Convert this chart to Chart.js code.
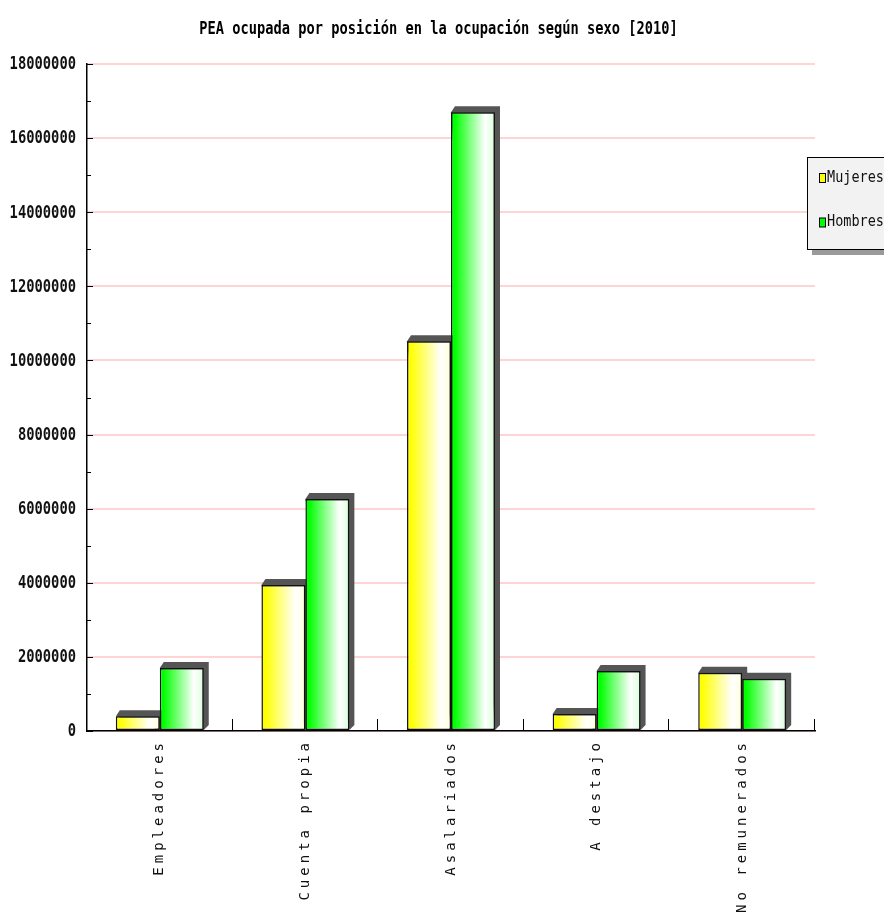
<!DOCTYPE html>
<html>
<head>
<meta charset="utf-8">
<title>PEA ocupada por posición en la ocupación según sexo</title>
<script src="https://cdn.jsdelivr.net/npm/chart.js@4/dist/chart.umd.min.js"></script>
<style>
  html, body { margin: 0; padding: 0; background: #fff; }
  #wrap { width: 884px; height: 917px; position: relative; }
</style>
</head>
<body>
<div id="wrap"><canvas id="peaChart"></canvas></div>
<script>
// categories and series
const categorias = ['Empleadores', 'Cuenta propia', 'Asalariados', 'A destajo', 'No remunerados'];
const mujeres = [400000, 3940000, 10520000, 460000, 1570000];
const hombres = [1700000, 6260000, 16700000, 1620000, 1410000];
const seriesNames = ['Mujeres', 'Hombres'];
const seriesColors = ['#ffff00', '#00ff00'];
const seriesFade = ['#ffffd8', '#d8ffd8'];
const yTicks = [0, 2000000, 4000000, 6000000, 8000000, 10000000, 12000000, 14000000, 16000000, 18000000];
const titulo = 'PEA ocupada por posición en la ocupación según sexo [2010]';

// narrow bold face: mono glyphs squeezed horizontally
function narrowText(ctx, text, x, y, align, size, squeeze, weight) {
  ctx.save();
  ctx.font = (weight || 'bold') + ' ' + size + 'px "DejaVu Sans Mono"';
  ctx.textAlign = align;
  ctx.textBaseline = 'middle';
  ctx.translate(x, y);
  ctx.scale(squeeze, 1);
  ctx.fillText(text, 0, 0);
  ctx.restore();
}

// gradient fill + drop shadow for every bar
const barStyle = {
  id: 'barStyle',
  beforeDatasetsDraw(chart) {
    const ctx = chart.ctx;
    // shadows first, so the bars sit on top
    ctx.save();
    ctx.fillStyle = '#555';
    chart.data.datasets.forEach((ds, di) => {
      chart.getDatasetMeta(di).data.forEach((el) => {
        const l = el.x - el.width / 2, r = el.x + el.width / 2;
        const t = el.y, b = el.base;
        ctx.beginPath();
        ctx.moveTo(l, t);
        ctx.lineTo(l + 4, t - 6);
        ctx.lineTo(r + 5, t - 6);
        ctx.lineTo(r + 5, b - 5);
        ctx.lineTo(r, b);
        ctx.closePath();
        ctx.fill();
      });
    });
    ctx.restore();
    chart.data.datasets.forEach((ds, di) => {
      chart.getDatasetMeta(di).data.forEach((el) => {
        const l = el.x - el.width / 2, r = el.x + el.width / 2;
        const g = ctx.createLinearGradient(l, 0, r, 0);
        g.addColorStop(0, seriesColors[di]);
        g.addColorStop(0.08, seriesColors[di]);
        g.addColorStop(0.78, '#ffffff');
        g.addColorStop(1, seriesFade[di]);
        el.options = Object.assign({}, el.options, { backgroundColor: g });
      });
    });
  }
};

// title, tick labels, inward ticks, rotated category labels and the legend box
const axisExtras = {
  id: 'axisExtras',
  afterDraw(chart) {
    const ctx = chart.ctx;
    const x = chart.scales.x, y = chart.scales.y;
    const area = chart.chartArea;
    ctx.save();
    ctx.fillStyle = '#000';
    narrowText(ctx, titulo, 438.5, 29, 'center', 18, 0.761);

    ctx.fillStyle = '#111';
    yTicks.forEach(v => {
      narrowText(ctx, String(v), 76, y.getPixelForValue(v) + 0.5, 'right', 18.5, 0.745);
    });

    ctx.strokeStyle = '#000';
    ctx.lineWidth = 1;
    // y ticks: long at labelled values, short halfway between
    for (let v = 0; v <= 18000000; v += 1000000) {
      const py = Math.round(y.getPixelForValue(v)) + 0.5;
      const len = v % 2000000 === 0 ? 6 : 4;
      ctx.beginPath();
      ctx.moveTo(area.left, py);
      ctx.lineTo(area.left + len, py);
      ctx.stroke();
    }
    // x ticks at group boundaries
    const step = (area.right - area.left) / categorias.length;
    for (let i = 1; i <= categorias.length; i++) {
      const px = Math.round(area.left + step * i) - 0.5;
      ctx.beginPath();
      ctx.moveTo(px, area.bottom);
      ctx.lineTo(px, area.bottom - 12);
      ctx.stroke();
    }
    // category labels, reading upward
    ctx.fillStyle = '#111';
    ctx.font = '14px "DejaVu Sans Mono"';
    ctx.letterSpacing = '4px';
    ctx.textAlign = 'right';
    ctx.textBaseline = 'middle';
    categorias.forEach((c, i) => {
      ctx.save();
      ctx.translate(x.getPixelForValue(i), area.bottom + 8);
      ctx.rotate(-Math.PI / 2);
      ctx.fillText(c, 0, 0);
      ctx.restore();
    });
    ctx.letterSpacing = '0px';
    // legend box
    const lx = 807, ly = 157, lw = 90, lh = 92;
    ctx.fillStyle = '#9a9a9a';
    ctx.fillRect(lx + 5, ly + 6, lw, lh);
    ctx.fillStyle = '#f2f2f2';
    ctx.fillRect(lx, ly, lw, lh);
    ctx.strokeRect(lx + 0.5, ly + 0.5, lw, lh);
    seriesNames.forEach((n, i) => {
      const cy = 178 + i * 44.5;
      ctx.fillStyle = seriesColors[i];
      ctx.fillRect(819.5, cy - 4.5, 6, 9);
      ctx.strokeRect(819.5, cy - 4.5, 6, 9);
      ctx.fillStyle = '#111';
      narrowText(ctx, n, 827, cy, 'left', 15, 0.9, 'normal');
    });
    ctx.restore();
  }
};

const chart = new Chart(document.getElementById('peaChart'), {
  type: 'bar',
  data: {
    labels: categorias,
    datasets: [
      { label: seriesNames[0], data: mujeres, backgroundColor: seriesColors[0] },
      { label: seriesNames[1], data: hombres, backgroundColor: seriesColors[1] }
    ]
  },
  options: {
    responsive: true,
    maintainAspectRatio: false,
    animation: false,
    layout: { padding: { left: 0, right: 69, top: 64, bottom: 0 } },
    datasets: {
      bar: {
        categoryPercentage: 0.604,
        barPercentage: 1,
        borderColor: '#111',
        borderWidth: 1.5,
        borderSkipped: false
      }
    },
    plugins: {
      legend: { display: false },
      tooltip: { enabled: false },
      title: { display: false }
    },
    scales: {
      x: {
        grid: { display: false },
        border: { display: true, color: '#000', width: 1.5 },
        ticks: { display: false },
        afterFit(scale) { scale.height = 186; }
      },
      y: {
        min: 0,
        max: 18000000,
        afterBuildTicks(scale) { scale.ticks = yTicks.map(v => ({ value: v })); },
        grid: { color: '#ffd4d4', lineWidth: 2, drawTicks: false },
        border: { display: true, color: '#000', width: 1.5 },
        ticks: { display: false },
        afterFit(scale) { scale.width = 87; }
      }
    }
  },
  plugins: [barStyle, axisExtras]
});
</script>
</body>
</html>
